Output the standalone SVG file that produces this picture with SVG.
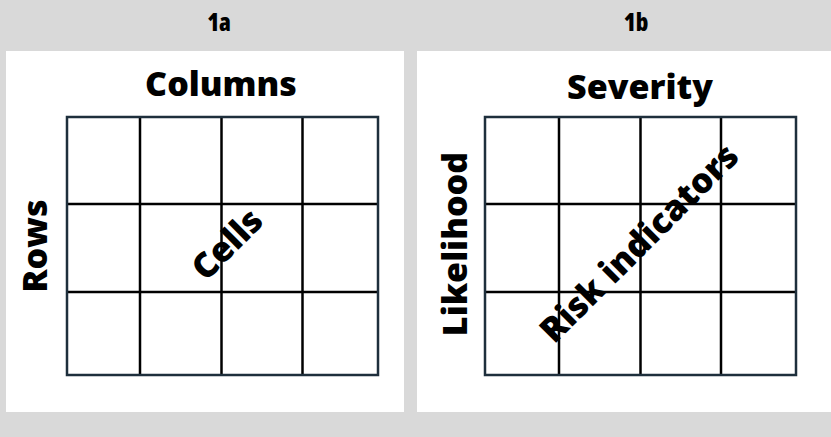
<svg xmlns="http://www.w3.org/2000/svg" width="831" height="437" viewBox="0 0 831 437">
<style>
.bg{fill:#d9d9d9}
.panel{fill:#ffffff}
.hdr{font-family:"Open Sans","Liberation Sans",sans-serif;font-weight:800;font-stretch:condensed;font-size:24px;fill:#000;text-anchor:middle}
.lbl{font-family:"Open Sans","Liberation Sans",sans-serif;font-weight:800;font-size:34px;fill:#000;text-anchor:middle}
.diag{font-family:"Open Sans","Liberation Sans",sans-serif;font-weight:800;font-size:34.5px;fill:#000;text-anchor:middle;dominant-baseline:central}
.outer{fill:none;stroke:#1e2f3c;stroke-width:2.5}
.inner{stroke:#000;stroke-width:2.5}
</style>
<rect class="bg" x="0" y="0" width="831" height="437"/>
<g id="panel-1a">
<text class="hdr" x="219" y="31">1a</text>
<rect class="panel" x="6" y="51" width="398" height="361"/>
<text class="lbl" x="221" y="96">Columns</text>
<text class="lbl" transform="translate(47,246) rotate(-90)">Rows</text>
<g id="grid-1a">
<line class="inner" x1="140" y1="117" x2="140" y2="375"/>
<line class="inner" x1="221.5" y1="117" x2="221.5" y2="375"/>
<line class="inner" x1="302.5" y1="117" x2="302.5" y2="375"/>
<line class="inner" x1="67" y1="204" x2="378" y2="204"/>
<line class="inner" x1="67" y1="292" x2="378" y2="292"/>
<rect class="outer" x="67" y="117" width="311" height="258"/>
</g>
<text class="diag" transform="translate(226,243) rotate(-45)">Cells</text>
</g>
<g id="panel-1b">
<text class="hdr" x="636" y="31">1b</text>
<rect class="panel" x="417" y="51" width="414" height="361"/>
<text class="lbl" x="640" y="99">Severity</text>
<text class="lbl" transform="translate(467,244) rotate(-90)">Likelihood</text>
<g id="grid-1b">
<line class="inner" x1="559" y1="117" x2="559" y2="375"/>
<line class="inner" x1="640.5" y1="117" x2="640.5" y2="375"/>
<line class="inner" x1="721" y1="117" x2="721" y2="375"/>
<line class="inner" x1="485" y1="204" x2="796" y2="204"/>
<line class="inner" x1="485" y1="292" x2="796" y2="292"/>
<rect class="outer" x="485" y="117" width="311" height="258"/>
</g>
<text class="diag" transform="translate(638,242) rotate(-45)">Risk indicators</text>
</g>
</svg>
